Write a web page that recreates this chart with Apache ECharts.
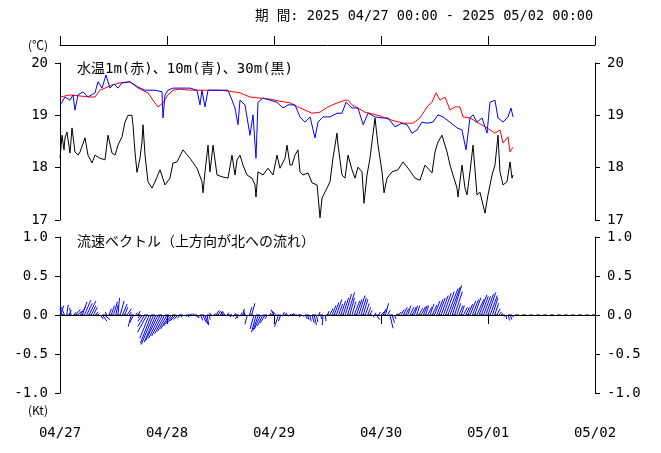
<!DOCTYPE html>
<html>
<head>
<meta charset="utf-8">
<script src="https://cdn.jsdelivr.net/npm/echarts@6/dist/echarts.min.js"></script>
<style>
  html, body { margin: 0; padding: 0; background: #fff; }
  #chart { width: 661px; height: 453px; }
</style>
</head>
<body>
<div id="chart"></div>
<script>
// time is hours from 2025-04-27 00:00
const dayLabels = ['04/27', '04/28', '04/29', '04/30', '05/01', '05/02']
const periodText = '期 間: 2025 04/27 00:00 - 2025 05/02 00:00'

// 1m water temp (red)
const temp1m = [
  [0,19.35],[2.24,19.39],[4.49,19.37],[6.73,19.35],[7.85,19.35],[8.97,19.48],[10.09,19.52],
  [11.66,19.58],[13.46,19.62],[15.7,19.64],[17.5,19.52],[19.74,19.43],[20.86,19.29],[21.98,19.16],
  [23.1,19.24],[24.22,19.39],[25.35,19.48],[26.92,19.5],[29.16,19.48],[31.4,19.48],[33.65,19.48],
  [35.89,19.48],[38.13,19.46],[40.37,19.43],[42.62,19.35],[44.86,19.33],[47.1,19.31],[49.35,19.27],
  [51.59,19.24],[53.38,19.16],[54.95,19.1],[56.53,19.04],[58.32,19.06],[60.11,19.16],[61.68,19.22],
  [63.93,19.29],[64.6,19.29],[65.5,19.2],[66.84,19.14],[68.41,19.06],[69.98,19.03],[71.78,18.99],
  [72.9,18.95],[75.14,18.89],[76.94,18.85],[79.18,18.85],[80.75,18.95],[82.32,19.16],[83.44,19.25],
  [84.34,19.43],[85.23,19.29],[86.36,19.35],[87.48,19.1],[88.6,19.16],[89.72,19.16],[90.39,18.97],
  [91.96,18.95],[93.53,18.87],[95.78,18.76],[97.57,18.66],[98.69,18.72],[99.37,18.47],[100.49,18.59],
  [100.94,18.3],[101.61,18.39]
]

// 10m water temp (blue)
const temp10m = [
  [0,19.2],[0.45,19.25],[1.12,19.35],[2.24,19.29],[2.92,19.39],[3.36,19.1],[4.04,19.39],[5.16,19.45],
  [6.28,19.35],[7.85,19.43],[8.52,19.64],[9.42,19.52],[10.32,19.77],[11.21,19.52],[12.11,19.6],
  [13.0,19.52],[13.9,19.62],[15.7,19.64],[17.5,19.54],[19.07,19.48],[21.31,19.48],[22.88,19.45],
  [23.1,18.95],[23.55,19.39],[24.22,19.48],[25.35,19.52],[26.92,19.52],[29.16,19.52],[30.73,19.48],
  [31.4,19.2],[31.85,19.48],[32.52,19.16],[33.2,19.48],[34.32,19.48],[35.89,19.48],[37.68,19.48],
  [38.58,19.29],[39.25,19.14],[39.93,18.82],[40.37,19.29],[41.49,19.2],[42.62,18.62],[43.29,19.01],
  [43.96,18.18],[44.41,19.25],[45.53,19.33],[47.1,19.29],[48.67,19.25],[50.02,19.14],[51.14,19.2],
  [52.71,19.2],[53.83,18.97],[54.95,18.87],[56.08,18.97],[57.2,18.57],[57.87,18.87],[58.99,18.97],
  [60.56,18.97],[62.13,19.04],[63.25,19.04],[64.15,19.25],[65.5,19.14],[66.84,19.14],[68.0,18.82],
  [69.09,19.04],[70.66,18.97],[72.23,18.95],[73.57,18.95],[75.14,18.78],[76.71,18.85],[77.83,18.82],
  [78.96,18.66],[80.08,18.72],[81.2,18.87],[82.32,18.85],[83.66,18.87],[84.79,19.01],[85.9,18.97],
  [87.48,18.87],[89.05,18.76],[90.17,18.72],[91.07,18.34],[91.96,18.95],[92.64,19.01],[93.53,18.87],
  [94.66,18.95],[95.33,18.78],[95.78,18.66],[96.45,19.25],[97.57,19.29],[98.24,18.95],[99.37,18.87],
  [100.49,18.97],[101.16,19.14],[101.61,18.97]
]

// 30m water temp (black)
const temp30m = [
  [0,18.18],[0.45,18.62],[0.9,18.34],[1.12,18.57],[1.57,18.68],[2.24,18.28],[2.69,18.76],[3.36,18.3],
  [4.04,18.24],[4.49,18.3],[5.61,18.57],[6.28,18.24],[7.18,18.09],[7.85,18.24],[8.97,18.18],
  [10.09,18.15],[10.77,18.62],[11.66,18.28],[12.34,18.24],[13.0,18.43],[13.9,18.59],[14.58,18.87],
  [15.25,19.0],[16.15,19.0],[16.37,18.82],[16.82,18.3],[17.27,17.91],[17.94,18.18],[18.39,18.49],
  [18.62,18.82],[19.07,18.24],[19.74,17.73],[20.64,17.61],[21.31,17.73],[22.43,17.96],[23.55,17.67],
  [24.67,17.8],[25.35,18.09],[26.24,18.11],[27.59,18.34],[29.16,18.18],[30.73,17.99],[31.85,17.73],
  [32.08,17.52],[32.52,17.92],[33.2,18.43],[33.65,17.92],[34.32,18.43],[35.22,17.86],[36.56,17.82],
  [37.68,17.8],[38.58,18.24],[39.25,17.86],[39.7,18.15],[40.37,18.24],[41.05,18.05],[41.94,17.86],
  [43.07,17.8],[43.74,17.67],[43.96,17.44],[44.41,17.92],[45.53,17.86],[46.66,17.99],[47.78,17.86],
  [48.67,18.24],[49.35,17.99],[50.47,18.18],[50.92,18.43],[51.59,18.05],[52.04,18.05],[52.71,18.24],
  [53.38,18.34],[53.83,17.92],[54.51,17.86],[55.63,17.9],[56.53,17.71],[57.65,17.67],[57.87,17.48],
  [58.32,17.04],[58.77,17.42],[59.89,17.61],[60.56,17.73],[61.23,18.18],[62.13,18.66],[62.36,18.43],
  [63.25,17.86],[63.93,17.8],[64.6,18.24],[65.5,17.96],[66.17,17.8],[66.84,18.01],[67.74,17.92],
  [68.19,17.32],[68.86,17.86],[69.53,18.18],[69.98,18.49],[70.66,18.95],[71.33,18.43],[72.23,17.92],
  [72.68,17.52],[73.35,17.8],[74.47,17.92],[75.82,17.96],[76.94,18.11],[78.06,17.99],[79.63,17.8],
  [80.75,17.76],[81.87,18.05],[83.44,17.9],[84.11,18.3],[84.79,18.49],[85.68,18.62],[86.81,18.3],
  [87.48,18.05],[88.15,17.86],[89.05,17.61],[89.27,17.44],[90.17,18.05],[90.84,17.61],[91.29,17.48],
  [91.96,17.92],[92.64,18.43],[93.53,17.48],[94.21,17.53],[94.88,17.29],[95.33,17.13],[96.0,17.48],
  [96.9,17.86],[97.57,18.05],[98.24,18.62],[98.69,17.92],[99.37,17.67],[100.26,17.73],[100.94,18.11],
  [101.38,17.8],[101.61,17.86]
]

// current vector every 30 min from 04/27 00:00: east (u) and north (v) in kt
const curU = [
  0.05,-0.03,-0.04,0.02,0.03,-0.02,0.04,0.06,0.05,0.07,
  0.06,0.08,0.07,0.09,0.06,0.05,0.03,0.02,0.04,0.06,
  0.07,-0.02,0.03,0.04,0.05,0.03,0.02,0.05,0.06,0.04,
  0.06,0.03,-0.04,-0.05,0.02,0.03,-0.03,-0.06,-0.09,-0.12,
  -0.12,-0.14,-0.16,-0.15,-0.16,-0.15,-0.14,-0.13,-0.12,-0.11,
  -0.10,-0.09,-0.08,-0.06,-0.04,-0.02,0.02,0.03,0.03,0.02,
  0.02,0.02,0.01,0.03,0.05,0.04,0.02,0.01,-0.03,0.02,
  0.04,0.03,0.03,-0.02,-0.03,0.02,0.02,0.03,0.03,0.02,
  -0.04,0.02,0.02,-0.02,-0.03,0.03,0.04,-0.05,-0.06,-0.07,
  -0.08,-0.07,-0.06,-0.03,0.02,0.02,-0.04,-0.05,-0.05,-0.03,
  0.02,0.02,0.01,0.02,0.03,0.02,0.01,0.01,-0.02,0.01,
  0.03,0.02,0.02,0.03,0.03,0.02,0.02,0.01,-0.01,0.01,
  0.02,0.04,0.05,0.06,0.07,0.05,0.06,0.07,0.08,0.09,
  0.06,0.05,0.07,0.07,0.08,0.07,0.06,0.05,0.04,0.03,
  0.03,0.02,0.04,0.02,0.05,0.04,0.04,0.03,0.04,0.03,
  0.02,0.02,0.03,0.04,0.05,0.04,0.04,0.05,0.05,0.04,
  0.04,0.05,0.06,0.05,0.04,0.05,0.05,0.06,0.07,0.08,
  0.08,0.09,0.10,0.11,0.13,0.13,0.12,0.10,0.05,0.05,
  0.04,0.05,0.05,0.06,0.07,0.08,0.08,0.09,0.10,0.09,
  0.09,0.10,0.10,0.09,0.07,0.05,0.04,0.03,0.02,0.01,
  0.01,0.02,0.02,0.01
]
const curV = [
  0.12,0.08,0.10,0.13,0.06,0.09,0.04,0.07,0.05,0.10,
  0.17,0.19,0.15,0.18,0.12,0.10,0.04,0.02,-0.05,-0.08,
  -0.06,0.04,0.08,0.12,0.17,0.13,0.22,0.18,0.14,0.10,
  0.08,0.04,-0.15,-0.10,0.03,0.05,-0.04,-0.08,-0.15,-0.22,
  -0.30,-0.36,-0.38,-0.35,-0.33,-0.30,-0.27,-0.24,-0.21,-0.18,
  -0.14,-0.11,-0.08,-0.06,-0.04,-0.03,-0.02,-0.03,0.01,0.02,
  -0.01,-0.03,-0.04,-0.07,-0.10,-0.12,-0.13,-0.06,0.03,0.02,
  0.06,0.05,0.05,0.04,0.04,0.03,-0.03,-0.02,0.02,-0.04,
  -0.05,0.03,0.08,0.06,-0.12,0.10,0.15,-0.18,-0.22,-0.20,
  -0.18,-0.14,-0.10,-0.05,0.03,0.02,0.07,0.05,-0.15,-0.08,
  0.04,0.03,-0.02,0.01,0.02,0.01,0.01,-0.01,-0.03,-0.02,
  -0.05,-0.06,-0.08,-0.10,-0.13,-0.09,0.04,-0.05,-0.13,-0.08,
  0.05,0.08,0.12,0.16,0.20,0.14,0.18,0.22,0.27,0.29,
  0.22,0.17,0.18,0.20,0.25,0.22,0.20,0.15,0.10,0.06,
  -0.03,0.03,-0.06,0.04,0.05,0.08,0.15,0.06,-0.17,-0.10,
  -0.05,0.02,0.04,0.07,0.10,0.08,0.12,0.10,0.10,0.12,
  0.12,0.09,0.11,0.12,0.12,0.10,0.14,0.13,0.18,0.20,
  0.22,0.25,0.28,0.30,0.34,0.36,0.38,0.30,0.15,0.12,
  0.12,0.10,0.10,0.14,0.18,0.20,0.22,0.20,0.26,0.24,
  0.24,0.27,0.29,0.25,0.22,0.15,0.08,0.04,0.02,-0.02,
  -0.05,-0.07,-0.06,-0.03
]

const cjk = "'Noto Sans CJK JP'"
const mono = "'DejaVu Sans Mono', 'Noto Sans CJK JP', monospace"
const tickText = { color: '#000', fontFamily: mono, fontSize: 14 }

const chart = echarts.init(document.getElementById('chart'), null, { renderer: 'canvas' })

function xAxisFor(gridIndex, position, offset, showLabel) {
  return {
    gridIndex: gridIndex,
    type: 'value',
    position: position,
    offset: offset,
    min: 0,
    max: 120,
    interval: 24,
    axisLine: { show: true, lineStyle: { color: '#000', width: 1 } },
    axisTick: { show: true, length: 9, lineStyle: { color: '#000' } },
    axisLabel: {
      show: showLabel,
      margin: 18,
      ...tickText,
      formatter: v => dayLabels[Math.round(v / 24)]
    },
    splitLine: { show: false }
  }
}

function yAxisFor(gridIndex, position, min, max, interval, fmt) {
  return {
    gridIndex: gridIndex,
    type: 'value',
    position: position,
    min: min,
    max: max,
    interval: interval,
    axisLine: { show: true, lineStyle: { color: '#000', width: 1 } },
    axisTick: { show: true, length: 5, lineStyle: { color: '#000' } },
    axisLabel: { show: true, margin: 12, ...tickText, formatter: fmt },
    splitLine: { show: false }
  }
}

const vecData = curU.map((u, i) => [i / 2, u, curV[i]])

const option = {
  animation: false,
  backgroundColor: '#fff',
  grid: [
    { left: 60, right: 66, top: 63, height: 157 },
    { left: 60, right: 66, top: 237, height: 156 }
  ],
  graphic: [
    { type: 'text', left: 255, top: 10, style: { text: periodText, fill: '#000', font: '13.6px ' + mono } },
    { type: 'text', left: 28, top: 39, style: { text: '(℃)', fill: '#000', font: '12px ' + cjk } },
    { type: 'text', left: 28, top: 404, style: { text: '(Kt)', fill: '#000', font: '12px ' + cjk } },
    { type: 'text', left: 77, top: 62, style: { text: '水温1m(赤)、10m(青)、30m(黒)', fill: '#000', font: '14px ' + mono } },
    { type: 'text', left: 77, top: 234, style: { text: '流速ベクトル（上方向が北への流れ）', fill: '#000', font: '14px ' + cjk } }
  ],
  xAxis: [
    xAxisFor(0, 'top', 18, false),
    xAxisFor(1, 'bottom', 15, true)
  ],
  yAxis: [
    yAxisFor(0, 'left', 17, 20, 1, v => String(v)),
    yAxisFor(0, 'right', 17, 20, 1, v => String(v)),
    yAxisFor(1, 'left', -1, 1, 0.5, v => v.toFixed(1)),
    yAxisFor(1, 'right', -1, 1, 0.5, v => v.toFixed(1))
  ],
  series: [
    {
      type: 'line', xAxisIndex: 0, yAxisIndex: 0, data: temp30m,
      showSymbol: false, lineStyle: { color: '#000', width: 1 }
    },
    {
      type: 'line', xAxisIndex: 0, yAxisIndex: 0, data: temp1m,
      showSymbol: false, lineStyle: { color: '#ff0000', width: 1 }
    },
    {
      type: 'line', xAxisIndex: 0, yAxisIndex: 0, data: temp10m,
      showSymbol: false, lineStyle: { color: '#0000ff', width: 1 }
    },
    {
      type: 'line', xAxisIndex: 1, yAxisIndex: 2, data: [[0, 0], [120, 0]],
      showSymbol: false, lineStyle: { color: '#000', width: 1, type: [4, 3] }
    },
    {
      type: 'custom', xAxisIndex: 1, yAxisIndex: 2, data: vecData,
      renderItem: (params, api) => {
        const t = api.value(0)
        const u = api.value(1)
        const v = api.value(2)
        const base = api.coord([t, 0])
        const unit = base[1] - api.coord([t, 1])[1]
        const tip = api.coord([t, v])
        return {
          type: 'line',
          shape: { x1: base[0], y1: base[1], x2: base[0] + u * unit, y2: tip[1] },
          style: { stroke: '#0000ff', lineWidth: 1 }
        }
      }
    }
  ]
}

chart.setOption(option)
</script>
</body>
</html>
